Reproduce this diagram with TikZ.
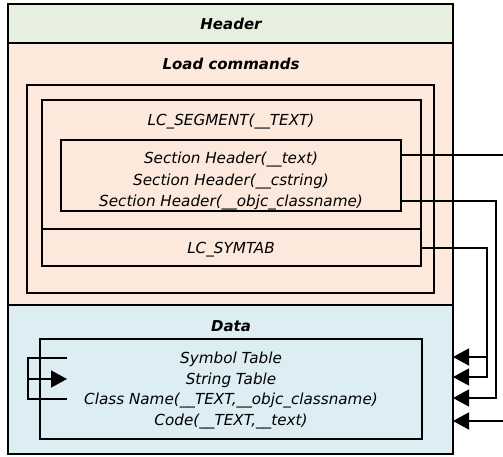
\documentclass[tikz,border=0pt]{standalone}
\usepackage{fontspec}
\setmainfont{DejaVu Sans}
\usetikzlibrary{arrows.meta}
\definecolor{hdrgreen}{RGB}{231,239,222}
\definecolor{lcpeach}{RGB}{252,233,220}
\definecolor{datablue}{RGB}{220,237,244}
\tikzset{
  boxn/.style={draw=black, line width=2pt, inner sep=0pt, outer sep=0pt, anchor=north west},
  lbl/.style={font=\fontsize{15.2}{16}\selectfont\itshape, inner sep=0pt, yshift=-1.5pt},
  ttl/.style={font=\fontsize{15}{16}\selectfont\bfseries\itshape, inner sep=0pt, yshift=-1pt},
  conn/.style={draw=black, line width=1.5pt},
  arr/.style={conn, -{Triangle[length=16pt,width=17pt]}}
}
\begin{document}
\begin{tikzpicture}[x=1pt,y=-1pt]
\useasboundingbox (0,0) rectangle (503,456);
% main regions
\node[boxn, fill=hdrgreen, minimum width=445pt, minimum height=39pt] (hdr) at (8,4) {};
\node[boxn, fill=lcpeach, minimum width=445pt, minimum height=262pt] (lc) at (8,43) {};
\node[boxn, fill=datablue, minimum width=445pt, minimum height=149pt] (data) at (8,305) {};
% inner boxes
\node[boxn, minimum width=407pt, minimum height=208pt] (lcin) at (27,85) {};
\node[boxn, minimum width=379pt, minimum height=129pt] (seg) at (42,100) {};
\node[boxn, minimum width=379pt, minimum height=37pt] (sym) at (42,229) {};
\node[boxn, minimum width=340pt, minimum height=71pt] (sh) at (61,140) {};
\node[boxn, minimum width=382pt, minimum height=100pt] (dbox) at (40,339) {};
% titles
\node[ttl] (thdr) at (231,23) {Header};
\node[ttl] (tlc) at (231,63) {Load commands};
\node[ttl] (tdata) at (231,325) {Data};
% labels
\node[lbl] (tseg) at (231,120) {LC\_SEGMENT(\_\_TEXT)};
\node[lbl] (sh1) at (231,158) {Section Header(\_\_text)};
\node[lbl] (sh2) at (231,180) {Section Header(\_\_cstring)};
\node[lbl] (sh3) at (231,201) {Section Header(\_\_objc\_classname)};
\node[lbl] (tsym) at (231,248) {LC\_SYMTAB};
\node[lbl] (d1) at (231,358) {Symbol Table};
\node[lbl] (d2) at (231,379) {String Table};
\node[lbl] (d3) at (231,399) {Class Name(\_\_TEXT,\_\_objc\_classname)};
\node[lbl] (d4) at (231,420) {Code(\_\_TEXT,\_\_text)};
% right side connectors
\coordinate (outA) at (503,155);
\coordinate (outB) at (503,421);
\coordinate (vB) at (496,201);
\coordinate (vS) at (487,248);
\coordinate (r1) at (487,357);
\coordinate (r2) at (487,377);
\coordinate (r3) at (496,398);
\draw[conn] (sh.east |- outA) -- (outA);
\draw[arr] (sh.east |- vB) -- (vB) -- (r3) -- (data.east |- r3);
\draw[arr] (sym.east |- vS) -- (vS) -- (r2) -- (data.east |- r2);
\draw[arr] (r1) -- (data.east |- r1);
\draw[arr] (outB) -- (data.east |- outB);
% left connector
\coordinate (lL) at (28,379);
\coordinate (lR) at (67,379);
\coordinate (lT) at (28,358);
\coordinate (lB) at (28,399);
\draw[conn] (lR |- lT) -- (lT) -- (lB) -- (lR |- lB);
\draw[arr] (lL) -- (lR);
\end{tikzpicture}
\end{document}
